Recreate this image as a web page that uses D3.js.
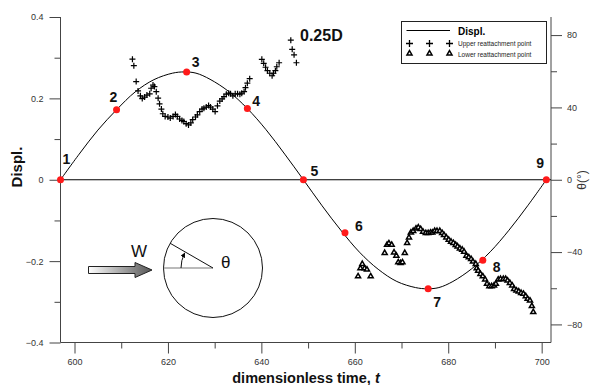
<!DOCTYPE html>
<html>
<head>
<meta charset="utf-8">
<script src="https://cdn.jsdelivr.net/npm/d3@7"></script>
<style>
  html, body { margin: 0; padding: 0; background: #fff; }
  svg { display: block; font-family: Arial, "Liberation Sans", sans-serif; }
</style>
</head>
<body>
<svg id="chart" width="592" height="385"></svg>
<script>
// Cylinder displacement over one oscillation cycle (left axis)
const displT = [597, 601, 605, 609, 613, 617, 621, 623.5, 626, 629, 633, 637, 641, 645, 649,
                653, 657, 661, 665, 669, 673, 675.5, 678, 681, 685, 689, 693, 697, 701];
const displV = [0, 0.063, 0.122, 0.172, 0.216, 0.246, 0.262, 0.265, 0.262, 0.247, 0.217, 0.175, 0.123, 0.063, 0,
                -0.064, -0.124, -0.178, -0.22, -0.25, -0.265, -0.268, -0.265, -0.25, -0.219, -0.177, -0.124, -0.064, 0];

// Marked phases 1..9 on the displacement curve
const phaseLabels = ["1", "2", "3", "4", "5", "6", "7", "8", "9"];
const phaseT = [597, 609, 624, 637, 649, 657.9, 675.7, 687.4, 701];
const phaseV = [0, 0.172, 0.265, 0.175, 0, -0.13, -0.268, -0.198, 0];

// Upper reattachment point angle (right axis, degrees)
const upperT = [612.4, 612.7, 613.2, 613.6, 614.1, 614.5, 615.0, 615.5, 616.1, 616.4, 616.8, 617.1, 617.5, 617.9,
                618.2, 618.6, 618.9, 619.4, 620.0, 620.5, 621.1, 621.6, 622.0, 622.5, 623.0, 623.4, 623.9, 624.4,
                624.9, 625.3, 625.9, 626.3, 626.8, 627.3, 627.7, 628.2, 628.7, 629.1, 629.6, 630.1, 630.6, 631.1,
                631.6, 632.0, 632.5, 633.0, 633.4, 633.9, 634.4, 634.9, 635.4, 635.8, 636.3, 636.6, 637.0, 637.5,
                640.1, 640.5, 640.9, 641.3, 641.8, 642.3, 642.6, 643.0, 643.3, 643.8,
                646.3, 646.6, 647.0, 647.5];
const upperTheta = [66.7, 63.1, 54.3, 49.1, 46.4, 44.9, 45.7, 46.8, 47.5, 50.6, 52.4, 51.5, 48.7, 45.1,
                    42.0, 39.1, 36.5, 35.0, 34.7, 34.1, 35.0, 36.1, 35.0, 33.6, 32.8, 32.2, 31.0, 30.3,
                    31.4, 33.2, 34.7, 35.9, 37.7, 39.1, 39.6, 40.2, 41.0, 40.2, 39.1, 37.7, 40.9, 43.5,
                    44.7, 46.0, 47.3, 47.9, 47.5, 46.4, 47.5, 47.5, 47.3, 47.9, 48.7, 50.9, 53.4, 55.9,
                    66.6, 64.4, 62.2, 60.3, 58.9, 57.5, 58.9, 60.3, 62.5, 64.7,
                    77.2, 72.1, 69.1, 64.7];

// Lower reattachment point angle (right axis, degrees)
const lowerT = [660.7, 661.2, 661.6, 662.1, 662.6, 663.4,
                666.4, 666.9, 667.3, 667.9, 668.4, 668.9, 669.3, 669.8, 670.2, 670.7, 671.2, 671.6, 672.0,
                672.5, 673.1, 673.6, 674.1, 674.6, 675.2, 675.7, 676.2, 676.6, 677.1, 677.6, 678.2, 678.7,
                679.1, 679.6, 680.1, 680.6, 681.1, 681.6, 682.0, 682.5, 683.0, 683.4, 683.9, 684.4, 684.9,
                685.3, 685.9, 686.1, 686.4, 686.9, 687.4, 687.9, 688.3, 688.8, 689.3, 689.8, 690.2, 690.7,
                691.2, 691.8, 692.3, 692.7, 693.2, 693.7, 694.1, 694.6, 695.1, 695.6, 696.1, 696.6, 697.0,
                697.5, 697.9, 698.2];
const lowerTheta = [-53.4, -49.0, -46.6, -49.0, -49.7, -53.4,
                    -40.5, -36.0, -35.2, -36.0, -40.2, -42.0, -45.7, -46.1, -45.7, -40.5, -35.0, -31.9, -29.2,
                    -28.3, -27.0, -26.4, -27.3, -28.8, -29.5, -29.5, -29.2, -29.2, -28.3, -28.3, -28.3, -29.5,
                    -30.6, -31.9, -33.2, -34.3, -35.0, -36.1, -36.9, -38.0, -38.7, -39.8, -42.0, -42.9, -43.9,
                    -45.3, -46.6, -49.0, -50.3, -52.1, -53.4, -55.2, -57.6, -58.9, -58.9, -58.5, -57.6, -55.2,
                    -54.9, -54.9, -54.9, -55.8, -57.1, -58.5, -60.4, -61.3, -61.8, -62.6, -63.1, -64.4, -65.9,
                    -66.8, -69.9, -73.2];

// Tick values
const xTicks = [600, 620, 640, 660, 680, 700];
const xMinorTicks = [610, 630, 650, 670, 690];
const yTicks = [-0.4, -0.2, 0, 0.2, 0.4];
const yMinorTicks = [-0.3, -0.1, 0.1, 0.3];
const thetaTicks = [-80, -40, 0, 40, 80];
const thetaMinorTicks = [-60, -20, 20, 60];

// Layout
const plot = { left: 60.5, right: 551, top: 17, bottom: 342.5 };
// offsets of the phase number labels from their dots
const labelOffsets = [[2, -16], [-7, -8], [5, -5], [5, -3], [7, -4], [10, -2], [5, 18], [10, 12], [-10, -12]];

const svg = d3.select("#chart");
const x = d3.scaleLinear().domain([597, 702]).range([plot.left, plot.right]);
const y = d3.scaleLinear().domain([-0.4, 0.4]).range([plot.bottom, plot.top]);
const yR = d3.scaleLinear().domain([-90, 90]).range([plot.bottom, plot.top]);

const axisColor = "#444";
const tickTextColor = "#333";

function styleAxis(g) {
  g.selectAll(".domain").remove();
  g.selectAll("line").attr("stroke", axisColor);
  g.selectAll("text").attr("fill", tickTextColor).attr("font-size", 9);
}

// Bottom axis
svg.append("g").attr("transform", `translate(0,${plot.bottom})`)
  .call(d3.axisBottom(x).tickValues(xMinorTicks).tickSize(6).tickFormat(""))
  .call(styleAxis);
svg.append("g").attr("transform", `translate(0,${plot.bottom})`)
  .call(d3.axisBottom(x).tickValues(xTicks).tickSize(11).tickPadding(5).tickFormat(d3.format("d")))
  .call(styleAxis);

// Left axis
svg.append("g").attr("transform", `translate(${plot.left},0)`)
  .call(d3.axisLeft(y).tickValues(yMinorTicks).tickSize(6).tickFormat(""))
  .call(styleAxis);
svg.append("g").attr("transform", `translate(${plot.left},0)`)
  .call(d3.axisLeft(y).tickValues(yTicks).tickSize(11).tickPadding(6).tickFormat(d => d === 0 ? "0" : d3.format(".1f")(d)))
  .call(styleAxis);

// Right axis
svg.append("g").attr("transform", `translate(${plot.right},0)`)
  .call(d3.axisRight(yR).tickValues(thetaMinorTicks).tickSize(6).tickFormat(""))
  .call(styleAxis);
svg.append("g").attr("transform", `translate(${plot.right},0)`)
  .call(d3.axisRight(yR).tickValues(thetaTicks).tickSize(11).tickPadding(5).tickFormat(d3.format("d")))
  .call(styleAxis);

// Frame lines (left, right, bottom)
const frame = svg.append("g").attr("stroke", axisColor).attr("stroke-width", 1);
frame.append("line").attr("x1", plot.left).attr("x2", plot.left).attr("y1", plot.top).attr("y2", plot.bottom);
frame.append("line").attr("x1", plot.right).attr("x2", plot.right).attr("y1", plot.top).attr("y2", plot.bottom);
frame.append("line").attr("x1", plot.left).attr("x2", plot.right).attr("y1", plot.bottom).attr("y2", plot.bottom);

// Zero line
svg.append("line")
  .attr("x1", plot.left).attr("x2", plot.right)
  .attr("y1", y(0)).attr("y2", y(0))
  .attr("stroke", "#000").attr("stroke-width", 1);

// Displacement curve
const displData = displT.map((t, i) => [t, displV[i]]);
svg.append("path")
  .datum(displData)
  .attr("fill", "none").attr("stroke", "#000").attr("stroke-width", 1)
  .attr("d", d3.line().x(d => x(d[0])).y(d => y(d[1])).curve(d3.curveCatmullRom));

// Upper reattachment points (+)
const upper = svg.append("g").attr("stroke", "#000").attr("stroke-width", 1.2);
upperT.forEach((t, i) => {
  const cx = x(t), cy = yR(upperTheta[i]);
  upper.append("path").attr("d", `M${cx - 3},${cy}H${cx + 3}M${cx},${cy - 3}V${cy + 3}`);
});

// Lower reattachment points (triangles)
const tri = d3.symbol().type(d3.symbolTriangle).size(11);
svg.append("g").selectAll("path")
  .data(lowerT.map((t, i) => [t, lowerTheta[i]]))
  .join("path")
  .attr("d", tri)
  .attr("transform", d => `translate(${x(d[0])},${yR(d[1])})`)
  .attr("fill", "#fff").attr("stroke", "#000").attr("stroke-width", 1.5);

// Phase dots and numbers
const phases = phaseT.map((t, i) => ({ t, v: phaseV[i], label: phaseLabels[i], off: labelOffsets[i] }));
svg.append("g").selectAll("circle").data(phases).join("circle")
  .attr("cx", d => x(d.t)).attr("cy", d => y(d.v)).attr("r", 3.5)
  .attr("fill", "#ff1a1a");
svg.append("g").selectAll("text").data(phases).join("text")
  .attr("x", d => x(d.t) + d.off[0]).attr("y", d => y(d.v) + d.off[1])
  .attr("font-size", 14).attr("font-weight", "bold").attr("fill", "#111")
  .text(d => d.label);

// Case label
svg.append("text").attr("x", 300).attr("y", 41)
  .attr("font-size", 16).attr("font-weight", "bold").attr("fill", "#111")
  .text("0.25D");

// Legend
const lg = svg.append("g");
lg.append("rect").attr("x", 401.5).attr("y", 21.5).attr("width", 145).attr("height", 42)
  .attr("fill", "#fff").attr("stroke", "#222").attr("stroke-width", 1);
lg.append("line").attr("x1", 406.5).attr("x2", 450).attr("y1", 30.5).attr("y2", 30.5)
  .attr("stroke", "#000").attr("stroke-width", 1);
lg.append("text").attr("x", 458).attr("y", 35).attr("font-size", 10).attr("font-weight", "bold").text("Displ.");
[409.5, 429.5, 449.5].forEach(cx => {
  lg.append("path").attr("d", `M${cx - 3.5},43.5H${cx + 3.5}M${cx},40V47`)
    .attr("stroke", "#000").attr("stroke-width", 1.3);
  lg.append("path").attr("d", tri).attr("transform", `translate(${cx},53.5)`)
    .attr("fill", "#fff").attr("stroke", "#000").attr("stroke-width", 1.5);
});
lg.append("text").attr("x", 458).attr("y", 46).attr("font-size", 6.5).attr("fill", "#222").text("Upper reattachment point");
lg.append("text").attr("x", 458).attr("y", 56.5).attr("font-size", 6.5).attr("fill", "#222").text("Lower reattachment point");

// Axis titles
svg.append("text")
  .attr("transform", "translate(22,167) rotate(-90)")
  .attr("text-anchor", "middle").attr("font-size", 15).attr("font-weight", "bold").attr("fill", "#111")
  .text("Displ.");
const xt = svg.append("text").attr("x", 306).attr("y", 382.5)
  .attr("text-anchor", "middle").attr("font-size", 14.5).attr("font-weight", "bold").attr("fill", "#111");
xt.append("tspan").text("dimensionless time, ");
xt.append("tspan").attr("font-style", "italic").text("t");
svg.append("text")
  .attr("transform", "translate(586,180) rotate(-90)")
  .attr("text-anchor", "middle").attr("font-size", 12).attr("fill", "#333")
  .text("θ(°)");

// Flow direction sketch: arrow W, cylinder with angle θ
const defs = svg.append("defs");
const grad = defs.append("linearGradient").attr("id", "arrowFill").attr("x1", "0%").attr("x2", "100%");
grad.append("stop").attr("offset", "0%").attr("stop-color", "#fff");
grad.append("stop").attr("offset", "100%").attr("stop-color", "#555");
defs.append("marker").attr("id", "arcHead").attr("viewBox", "0 0 10 10")
  .attr("refX", 8).attr("refY", 5).attr("markerWidth", 5).attr("markerHeight", 5)
  .attr("orient", "auto")
  .append("path").attr("d", "M0,0L10,5L0,10Z").attr("fill", "#000");

const sk = svg.append("g");
sk.append("path")
  .attr("d", "M88.5,266.5H135V262.5L152,270L135,277.5V273.5H88.5Z")
  .attr("fill", "url(#arrowFill)").attr("stroke", "#222").attr("stroke-width", 1);
sk.append("text").attr("x", 139).attr("y", 257).attr("text-anchor", "middle")
  .attr("font-size", 17).attr("fill", "#111").text("W");

const cx0 = 213, cy0 = 268, r0 = 49.5;
sk.append("circle").attr("cx", cx0).attr("cy", cy0).attr("r", r0)
  .attr("fill", "none").attr("stroke", "#111").attr("stroke-width", 1);
sk.append("line").attr("x1", cx0 - r0).attr("x2", cx0).attr("y1", cy0).attr("y2", cy0)
  .attr("stroke", "#777").attr("stroke-width", 1.2);
const ang = 150 * Math.PI / 180;
sk.append("line").attr("x1", cx0).attr("y1", cy0)
  .attr("x2", cx0 + r0 * Math.cos(ang)).attr("y2", cy0 - r0 * Math.sin(ang))
  .attr("stroke", "#111").attr("stroke-width", 1);
const ra = 32;
const a1 = 180 * Math.PI / 180, a2 = 153 * Math.PI / 180;
sk.append("path")
  .attr("d", `M${cx0 + ra * Math.cos(a1)},${cy0 - ra * Math.sin(a1)}A${ra},${ra} 0 0 1 ${cx0 + ra * Math.cos(a2)},${cy0 - ra * Math.sin(a2)}`)
  .attr("fill", "none").attr("stroke", "#111").attr("stroke-width", 1)
  .attr("marker-end", "url(#arcHead)");
sk.append("text").attr("x", 221).attr("y", 268)
  .attr("font-size", 17).attr("fill", "#111").text("θ");
</script>
</body>
</html>
